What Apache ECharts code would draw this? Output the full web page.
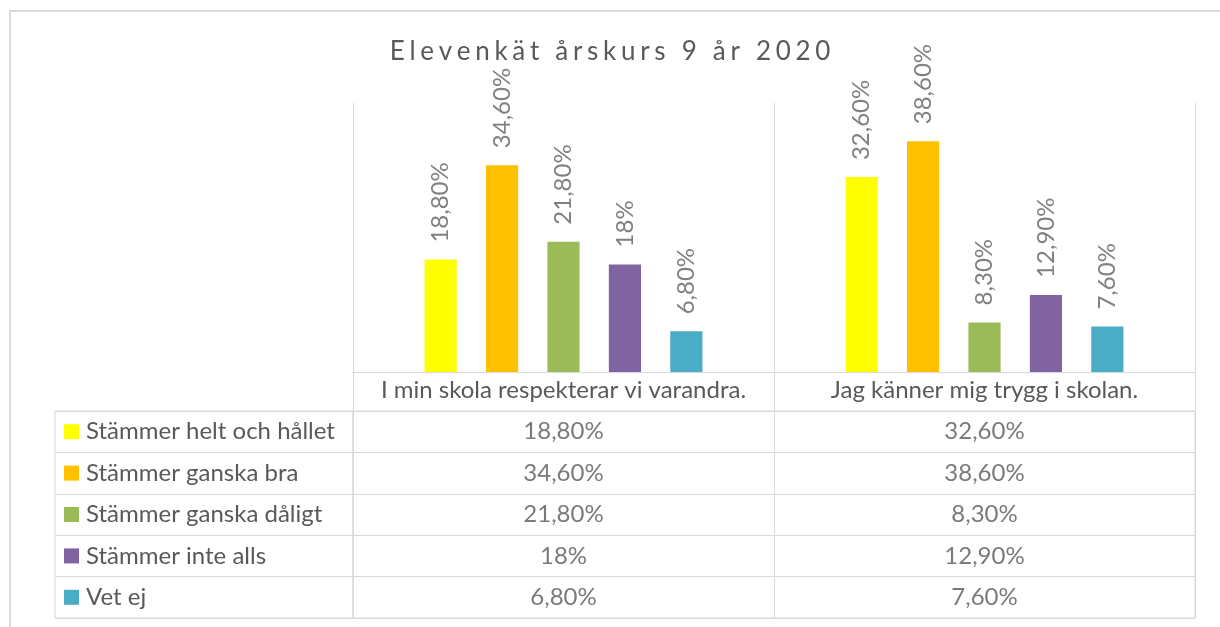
<!DOCTYPE html>
<html>
<head>
<meta charset="utf-8">
<script src="https://cdn.jsdelivr.net/npm/echarts@6/dist/echarts.min.js"></script>
<style>
html,body{margin:0;padding:0;background:#fff;}
#chart{width:1220px;height:627px;}
</style>
</head>
<body>
<div id="chart"></div>
<script>
const title = 'Elevenkät årskurs 9 år 2020';
const categories = ['I min skola respekterar vi varandra.', 'Jag känner mig trygg i skolan.'];
const seriesNames = ['Stämmer helt och hållet', 'Stämmer ganska bra', 'Stämmer ganska dåligt', 'Stämmer inte alls', 'Vet ej'];
const colors = ['#FFFF00', '#FFC000', '#9BBB59', '#8064A2', '#4BACC6'];
const helt = [18.8, 32.6];
const ganskaBra = [34.6, 38.6];
const ganskaDaligt = [21.8, 8.3];
const inteAlls = [18, 12.9];
const vetEj = [6.8, 7.6];
const seriesValues = [helt, ganskaBra, ganskaDaligt, inteAlls, vetEj];
const yMax = 45;

const FONT = 'Lato';
const FS = 24;
const grey = '#d9d9d9';
const fmt = v => (Number.isInteger(v) ? String(v) : v.toFixed(2).replace('.', ',')) + '%';

const chart = echarts.init(document.getElementById('chart'));

const barSeries = seriesNames.map((name, i) => ({
  type: 'bar',
  name: name,
  xAxisIndex: 0,
  yAxisIndex: 0,
  data: seriesValues[i],
  barGap: '91%',
  barCategoryGap: '34%',
  itemStyle: { color: colors[i] },
  label: {
    show: true,
    position: 'top',
    rotate: 90,
    align: 'left',
    verticalAlign: 'middle',
    distance: 17,
    fontFamily: FONT,
    fontSize: FS,
    color: '#808080',
    formatter: p => fmt(p.value)
  },
  emphasis: { disabled: true },
  animation: false
}));

const tableData = [];
seriesNames.forEach((name, i) => {
  categories.forEach((c, j) => {
    tableData.push({ value: [c, name], raw: seriesValues[i][j] });
  });
});

const rich = { t: { fontFamily: FONT, fontSize: FS, color: '#595959', padding: [0, 0, 0, 7] } };
colors.forEach((c, i) => { rich['s' + i] = { backgroundColor: c, width: 15, height: 15 }; });

// spaced-out title (letter spacing emulated with rich text fragments)
const titleChars = Array.from(title);
const spacedTitle = titleChars.map((ch, i) => '{' + (i < titleChars.length - 1 ? 'c' : 'l') + '|' + ch + '}').join('');
const titleRichBase = { fontFamily: FONT, fontSize: 26, fontWeight: 'normal', color: '#595959' };

const option = {
  animation: false,
  textStyle: { fontFamily: FONT },
  title: {
    text: spacedTitle,
    left: 'center',
    top: 34,
    textStyle: {
      fontFamily: FONT, fontSize: 26, fontWeight: 'normal', color: '#595959',
      rich: {
        c: Object.assign({ padding: [0, 4.7, 0, 0] }, titleRichBase),
        l: Object.assign({}, titleRichBase)
      }
    }
  },
  graphic: [{
    type: 'rect',
    shape: { x: 10, y: 11, width: 1400, height: 900 },
    style: { fill: 'none', stroke: grey, lineWidth: 2 },
    silent: true
  }],
  grid: [
    { left: 353, right: 25, top: 103, bottom: 255 },
    { left: 353, right: 25, top: 411, bottom: 9, show: true, borderColor: grey, borderWidth: 1, backgroundColor: 'transparent' },
    { left: 55, width: 298, top: 411, bottom: 9, show: true, borderColor: grey, borderWidth: 1, backgroundColor: 'transparent' }
  ],
  xAxis: [
    {
      type: 'category', gridIndex: 0, data: categories,
      axisLine: { lineStyle: { color: grey, width: 1 } },
      axisTick: { show: true, interval: 0, length: 39, lineStyle: { color: grey } },
      splitLine: { show: true, interval: 0, lineStyle: { color: grey } },
      axisLabel: { interval: 0, hideOverlap: false, fontFamily: FONT, fontSize: FS, color: '#595959', margin: 6 }
    },
    {
      type: 'category', gridIndex: 1, data: categories,
      axisLine: { show: false }, axisTick: { show: false }, axisLabel: { show: false },
      splitLine: { show: true, interval: 0, lineStyle: { color: grey } }
    },
    { type: 'value', gridIndex: 2, show: false, min: 0, max: 1 }
  ],
  yAxis: [
    { type: 'value', gridIndex: 0, min: 0, max: yMax, show: false },
    {
      type: 'category', gridIndex: 1, data: seriesNames, inverse: true,
      axisLine: { show: false }, axisTick: { show: false }, axisLabel: { show: false },
      splitLine: { show: true, interval: 0, lineStyle: { color: grey } }
    },
    {
      type: 'category', gridIndex: 2, data: seriesNames, inverse: true,
      axisLine: { show: false }, axisTick: { show: false },
      splitLine: { show: true, interval: 0, lineStyle: { color: grey } },
      axisLabel: {
        inside: true, interval: 0, margin: 9, align: 'left',
        formatter: (v, idx) => '{s' + idx + '|}{t|' + v + '}',
        rich: rich
      }
    }
  ],
  series: barSeries.concat([{
    type: 'scatter',
    xAxisIndex: 1,
    yAxisIndex: 1,
    symbolSize: 0,
    data: tableData,
    label: {
      show: true,
      position: 'inside',
      fontFamily: FONT,
      fontSize: FS,
      color: '#595959',
      formatter: p => fmt(p.data.raw)
    },
    emphasis: { disabled: true },
    silent: true
  }])
};

chart.setOption(option);
</script>
</body>
</html>
